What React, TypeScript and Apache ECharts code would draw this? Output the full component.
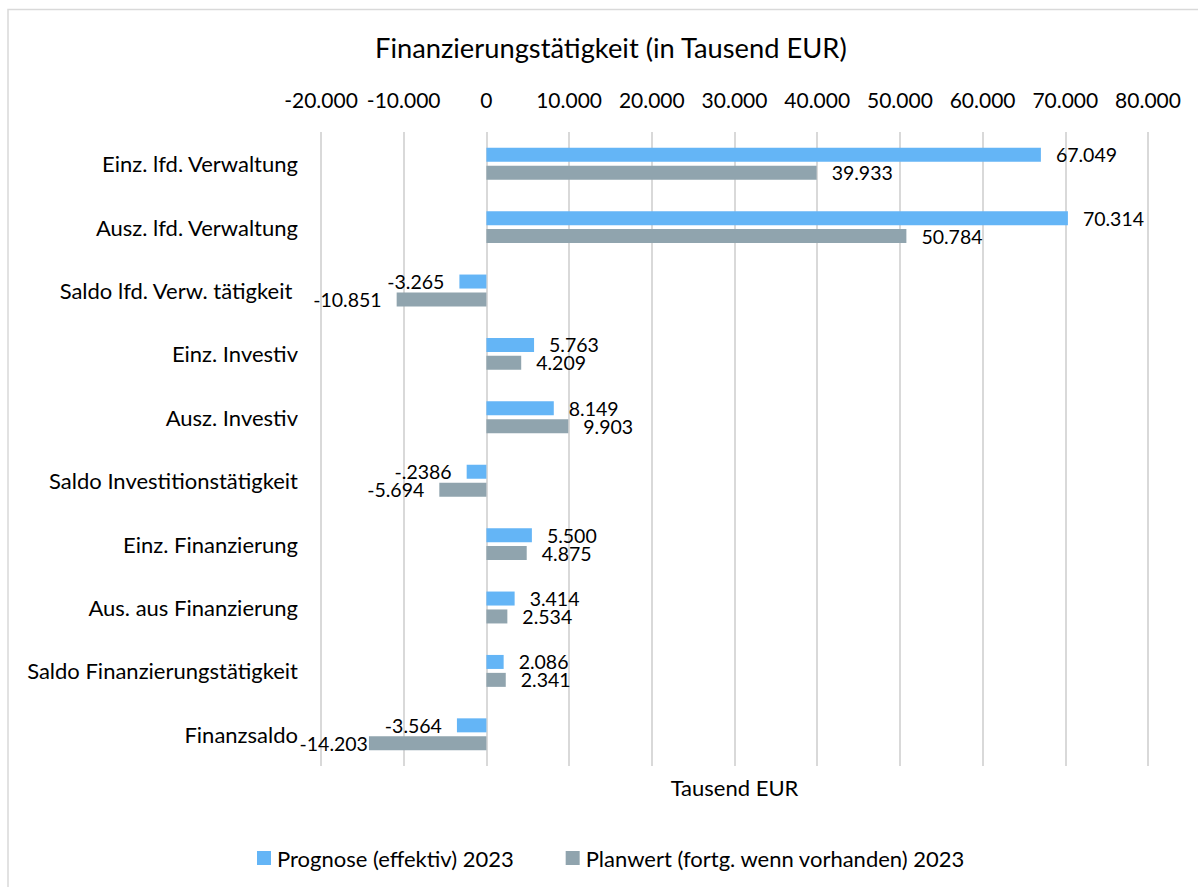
import React, { useEffect, useRef } from "react";
import * as echarts from "echarts";

const categories = [
  "Einz. lfd. Verwaltung",
  "Ausz. lfd. Verwaltung",
  "Saldo lfd. Verw. tätigkeit ",
  "Einz. Investiv",
  "Ausz. Investiv",
  "Saldo Investitionstätigkeit",
  "Einz. Finanzierung",
  "Aus. aus Finanzierung",
  "Saldo Finanzierungstätigkeit",
  "Finanzsaldo",
];
const prognose = [67049, 70314, -3265, 5763, 8149, -2386, 5500, 3414, 2086, -3564];
const prognoseLabels = ["67.049", "70.314", "-3.265", "5.763", "8.149", "-.2386", "5.500", "3.414", "2.086", "-3.564"];
const planwert = [39933, 50784, -10851, 4209, 9903, -5694, 4875, 2534, 2341, -14203];
const planwertLabels = ["39.933", "50.784", "-10.851", "4.209", "9.903", "-5.694", "4.875", "2.534", "2.341", "-14.203"];
const seriesNames = ["Prognose (effektiv) 2023", "Planwert (fortg. wenn vorhanden) 2023"];
const xMin = -20000;
const xMax = 80000;
const xInterval = 10000;

const FONT = "Lato";

function fmtThousands(v: number): string {
  const s = Math.abs(v).toString().replace(/\B(?=(\d{3})+(?!\d))/g, ".");
  return (v < 0 ? "-" : "") + s;
}

// labels that the reference draws directly against the bar end
function buildData(values: number[], labels: string[], tight: number[] = []) {
  return values.map((v, i) => ({
    value: v,
    label: {
      position: v < 0 ? "left" : "right",
      formatter: labels[i],
      distance: tight.indexOf(i) >= 0 ? 1 : 15,
    },
  }));
}

export default function App() {
  const ref = useRef<HTMLDivElement>(null);
  useEffect(() => {
    document.body.style.margin = "0";
    const chart = echarts.init(ref.current!, undefined, { renderer: "svg" });
    const labelStyle = {
      show: true,
      color: "#000",
      fontFamily: FONT,
      fontSize: 19.5,
      lineHeight: 14,
    };
    chart.setOption({
      animation: false,
      backgroundColor: "#fff",
      title: {
        text: "Finanzierungstätigkeit (in Tausend EUR)",
        left: 370,
        top: 29,
        textStyle: { fontFamily: FONT, fontSize: 27.3, fontWeight: "normal", color: "#000" },
      },
      graphic: [
        {
          type: "rect",
          shape: { x: 8, y: 9.5, width: 1250, height: 950 },
          style: { fill: "none", stroke: "#d9d9d9", lineWidth: 1.5 },
          silent: true,
          z: -1,
        },
        {
          type: "text",
          x: 734.5,
          y: 787,
          style: {
            text: "Tausend EUR",
            fontFamily: FONT,
            fontSize: 22,
            fill: "#000",
            textAlign: "center",
            textVerticalAlign: "middle",
          },
        },
      ],
      legend: {
        left: 252,
        top: 842,
        itemWidth: 14,
        itemHeight: 14,
        itemGap: 52,
        icon: "rect",
        textStyle: { fontFamily: FONT, fontSize: 22, color: "#000", padding: [0, 0, 0, 1] },
        data: seriesNames,
      },
      grid: { left: 321, right: 50, top: 132, bottom: 121, containLabel: false },
      xAxis: {
        type: "value",
        position: "top",
        min: xMin,
        max: xMax,
        interval: xInterval,
        axisLine: { show: false },
        axisTick: { show: false },
        splitLine: { show: true, lineStyle: { color: "#d9d9d9", width: 2 } },
        axisLabel: {
          margin: 22,
          color: "#000",
          fontFamily: FONT,
          fontSize: 21,
          formatter: (v: number) => fmtThousands(v),
        },
      },
      yAxis: {
        type: "category",
        inverse: true,
        data: categories,
        axisLine: { show: false },
        axisTick: { show: false },
        splitLine: { show: false },
        axisLabel: { margin: 23, color: "#000", fontFamily: FONT, fontSize: 22 },
      },
      series: [
        {
          name: seriesNames[0],
          type: "bar",
          barWidth: 14,
          barGap: "28%",
          itemStyle: { color: "#64b5f6" },
          label: labelStyle,
          data: buildData(prognose, prognoseLabels),
        },
        {
          name: seriesNames[1],
          type: "bar",
          barWidth: 14,
          barGap: "28%",
          itemStyle: { color: "#90a4ae" },
          label: labelStyle,
          data: buildData(planwert, planwertLabels, [9]),
        },
      ],
    });
    return () => chart.dispose();
  }, []);
  return <div ref={ref} style={{ width: 1198, height: 887 }} />;
}
